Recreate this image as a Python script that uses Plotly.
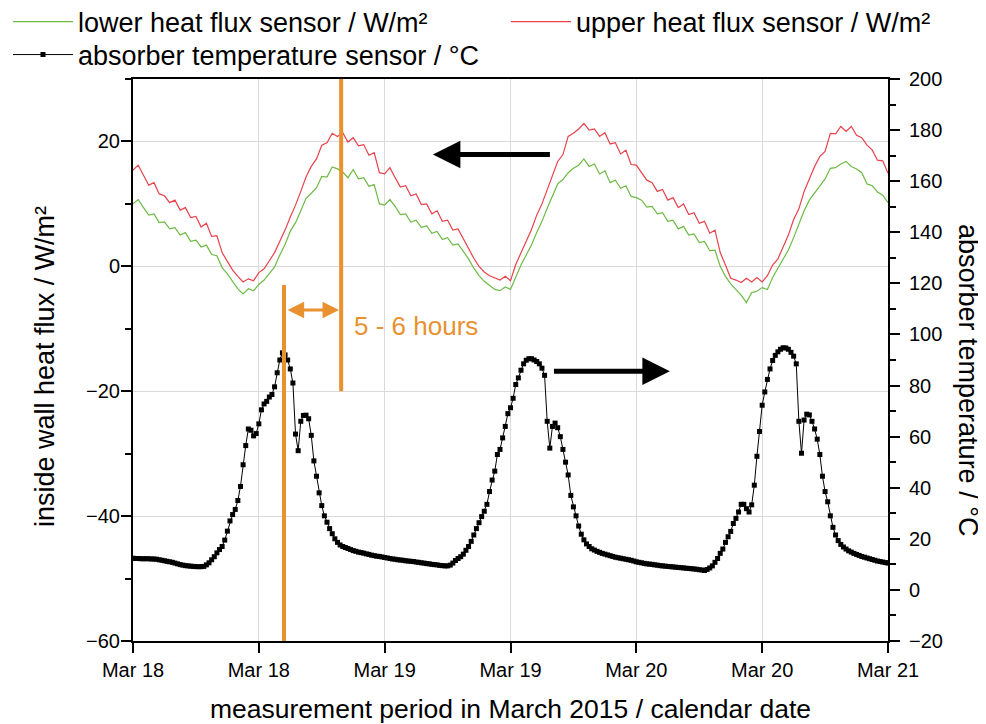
import numpy as np
import plotly.graph_objects as go

# ---------------- data ----------------
# heat flux sensors, 30-minute readings from Mar 18 00:00 (W/m²)
upper_flux = [
    15.4, 16.2, 14.6, 13.0, 13.4, 11.6, 11.3, 10.2, 10.6, 9.0, 9.4, 7.8,
    8.0, 6.3, 6.9, 4.8, 4.9, 2.2, 0.8, -0.6, -1.6, -2.5, -2.0, -2.3,
    -1.0, -0.4, 0.9, 2.2, 4.0, 5.8, 7.9, 9.8, 12.0, 14.3, 16.0, 17.2,
    19.4, 19.8, 21.3, 20.8, 21.4, 19.9, 20.6, 19.3, 19.5, 17.8, 18.2, 15.0,
    14.8, 15.8, 14.2, 12.7, 12.9, 11.3, 11.6, 9.9, 10.0, 8.4, 8.9, 7.2,
    7.4, 5.8, 6.0, 4.4, 2.8, 1.3, 0.0, -0.9, -1.5, -1.9, -2.2, -1.6,
    -2.3, 0.3, 2.3, 4.0, 5.9, 8.2, 10.0, 12.2, 14.3, 16.8, 17.9, 20.8,
    21.3, 22.0, 22.9, 21.8, 22.0, 20.8, 21.4, 19.6, 19.8, 18.0, 18.6, 16.3,
    16.2, 15.0, 13.8, 13.4, 12.0, 12.3, 10.6, 11.0, 9.4, 10.0, 8.3, 8.6,
    6.9, 7.2, 5.3, 5.8, 2.2, 0.2, -1.9, -2.2, -2.6, -1.9, -2.5, -1.8,
    -2.5, -1.5, 0.2, 1.2, 3.2, 5.0, 7.5, 9.2, 12.0, 13.9, 16.0, 17.6,
    18.4, 21.3, 21.2, 22.4, 21.6, 22.4, 21.0, 20.6, 19.4, 18.6, 17.0, 16.9,
    14.9,
]
lower_flux = [
    10.0, 10.7, 9.4, 8.2, 8.4, 7.0, 7.1, 6.0, 6.2, 5.0, 5.4, 4.0,
    4.2, 3.1, 3.4, 1.9, 1.7, -0.2, -1.2, -2.4, -3.6, -4.4, -3.6, -3.9,
    -2.9, -2.2, -1.1, -0.1, 1.8, 3.5, 5.6, 7.0, 8.9, 10.9, 11.7, 12.6,
    14.4, 14.3, 15.9, 15.6, 15.1, 14.2, 15.5, 14.0, 14.2, 12.8, 13.1, 10.0,
    9.8, 10.7, 9.6, 8.3, 8.4, 7.1, 7.4, 6.2, 6.5, 5.3, 5.6, 4.3,
    4.6, 3.4, 3.6, 2.4, 1.2, -0.3, -1.5, -2.4, -3.1, -3.7, -3.9, -3.3,
    -3.7, -1.6, 0.2, 1.8, 3.4, 5.4, 7.2, 9.3, 11.2, 13.2, 13.9, 15.0,
    15.7, 16.2, 17.2, 16.0, 16.4, 14.8, 15.3, 13.4, 13.8, 12.5, 12.9, 11.2,
    11.0, 10.6, 9.5, 9.6, 8.4, 8.6, 7.2, 7.4, 6.0, 6.4, 5.0, 5.2,
    3.8, 4.0, 2.5, 2.6, 0.0, -1.6, -2.8, -3.7, -4.6, -5.8, -4.2, -4.0,
    -3.4, -3.7, -1.8, -0.3, 1.2, 2.6, 4.6, 6.8, 8.9, 10.6, 11.8, 13.0,
    14.0, 15.7, 15.8, 16.4, 16.8, 16.0, 15.6, 15.0, 13.2, 12.9, 11.9, 11.4,
    10.2,
]
# absorber temperature, 15-minute readings (°C)
absorber_temp = [
    12.4, 12.3, 12.3, 12.2, 12.2, 12.2, 12.2, 12.1, 12.1, 12.0, 11.8, 11.6,
    11.4, 11.2, 11.0, 10.8, 10.5, 10.2, 9.9, 9.7, 9.5, 9.4, 9.3, 9.2,
    9.1, 9.1, 9.1, 9.2, 9.8, 10.6, 11.8, 13.0, 14.5, 15.8, 17.0, 19.5,
    23.0, 27.0, 29.5, 31.5, 35.0, 40.5, 49.0, 56.5, 63.0, 62.5, 60.3, 61.2,
    65.0, 70.5, 72.8, 73.8, 75.5, 76.5, 79.5, 85.0, 90.0, 92.8, 92.0, 90.0,
    86.5, 81.0, 61.0, 54.5, 66.0, 68.3, 68.4, 67.0, 60.5, 50.5, 44.5, 38.0,
    33.0, 29.0, 26.5, 24.0, 22.0, 20.0, 18.6, 17.6, 17.0, 16.6, 16.2, 15.8,
    15.4, 15.1, 14.8, 14.6, 14.4, 14.1, 13.9, 13.6, 13.4, 13.2, 13.1, 12.9,
    12.7, 12.5, 12.3, 12.1, 12.0, 11.8, 11.7, 11.6, 11.4, 11.3, 11.2, 11.1,
    10.9, 10.8, 10.6, 10.5, 10.3, 10.2, 10.0, 9.9, 9.8, 9.6, 9.5, 9.4,
    9.4, 9.7, 10.5, 11.5, 12.3, 13.0, 14.0, 15.5, 17.0, 19.0, 21.5, 24.0,
    26.3, 28.7, 30.8, 33.5, 38.5, 43.0, 46.5, 53.0, 55.0, 59.5, 64.0, 69.0,
    71.3, 75.0, 80.4, 83.0, 86.0, 88.5, 89.9, 90.5, 90.5, 90.0, 89.4, 88.5,
    86.8, 84.0, 66.0, 55.5, 64.0, 65.3, 63.5, 60.0, 55.0, 50.0, 45.0, 37.0,
    32.5, 29.0, 25.0, 21.8, 19.6, 18.0, 17.0, 16.1, 15.6, 15.1, 14.7, 14.3,
    14.0, 13.7, 13.4, 13.1, 12.8, 12.6, 12.4, 12.2, 12.0, 11.8, 11.6, 11.3,
    11.0, 10.8, 10.6, 10.4, 10.2, 10.1, 10.0, 9.8, 9.7, 9.5, 9.4, 9.3,
    9.2, 9.1, 9.0, 8.9, 8.8, 8.7, 8.6, 8.5, 8.4, 8.3, 8.2, 8.1,
    7.9, 7.8, 7.6, 8.0, 8.6, 9.4, 10.8, 12.3, 14.3, 16.0, 18.6, 20.8,
    22.9, 26.0, 28.0, 30.5, 33.5, 33.5, 31.8, 30.5, 33.3, 41.0, 52.3, 62.0,
    72.3, 77.5, 82.4, 86.5, 89.8, 91.8, 93.2, 94.2, 94.8, 94.7, 94.2, 93.0,
    91.5, 88.5, 66.0, 53.5, 66.5, 68.8, 68.5, 66.0, 63.0, 59.0, 53.0, 44.5,
    38.5, 34.5, 29.0, 24.5, 21.5, 19.3, 17.8, 16.8, 16.0, 15.3, 14.8, 14.3,
    13.9, 13.5, 13.1, 12.8, 12.5, 12.2, 11.9, 11.6, 11.3, 11.1, 10.9, 10.7,
    10.5,
]
flux_hours = np.arange(len(upper_flux)) * 0.5
temp_hours = np.arange(len(absorber_temp)) * 0.25

tick_hours = [0, 12, 24, 36, 48, 60, 72]
tick_labels = ["Mar 18", "Mar 18", "Mar 19", "Mar 19", "Mar 20", "Mar 20", "Mar 21"]

# annotation markers (hours, W/m²)
temp_peak_hour = 14.4
flux_peak_hour = 19.85
lag_label = "5 - 6 hours"

FONT = "Arial, Liberation Sans, Helvetica, sans-serif"
ORANGE = "#E8912E"
RED = "#E8424C"
GREEN = "#6DBA45"

# the page has an 8px body margin, so the figure is drawn 8px in from the corner
OFF = 8
W, H = 986 - OFF, 724 - OFF
# plot area in figure pixels
PL, PR, PT, PB = 133 - OFF, 888 - OFF, 79 - OFF, 641 - OFF


def px_x(px):
    return (px - PL) / (PR - PL)


def px_y(py):
    return (PB - py) / (PB - PT)


fig = go.Figure()
fig.add_trace(go.Scatter(
    x=flux_hours, y=lower_flux, mode="lines", name="lower heat flux sensor / W/m²",
    line=dict(color=GREEN, width=1.2), legend="legend"))
fig.add_trace(go.Scatter(
    x=flux_hours, y=upper_flux, mode="lines", name="upper heat flux sensor / W/m²",
    line=dict(color=RED, width=1.2), legend="legend2"))
fig.add_trace(go.Scatter(
    x=temp_hours, y=absorber_temp, mode="lines+markers", yaxis="y2",
    name="absorber temperature sensor / °C",
    line=dict(color="black", width=1),
    marker=dict(symbol="square", size=5, color="black"), legend="legend3"))

# orange lag markers
fig.add_shape(type="line", xref="x", yref="y", x0=temp_peak_hour, x1=temp_peak_hour,
              y0=-60, y1=-3, line=dict(color=ORANGE, width=4))
fig.add_shape(type="line", xref="x", yref="y", x0=flux_peak_hour, x1=flux_peak_hour,
              y0=-20, y1=30, line=dict(color=ORANGE, width=4))

annotations = [
    dict(x=flux_peak_hour - 0.2, y=-7.0, ax=temp_peak_hour + 0.2, ay=-7.0,
         xref="x", yref="y", axref="x", ayref="y", text="", showarrow=True,
         arrowhead=2, startarrowhead=2, arrowside="end+start", arrowwidth=3,
         arrowsize=1.1, startarrowsize=1.1, arrowcolor=ORANGE),
    dict(x=20.9, y=-9.6, xref="x", yref="y", text=lag_label, showarrow=False,
         xanchor="left", yanchor="middle", font=dict(size=26, color=ORANGE, family=FONT)),
    # black arrows
    dict(x=28.6, y=17.9, ax=39.9, ay=17.9, xref="x", yref="y", axref="x", ayref="y",
         text="", showarrow=True, arrowhead=2, arrowwidth=5, arrowsize=1.1, arrowcolor="black"),
    dict(x=51.2, y=-16.8, ax=40.0, ay=-16.8, xref="x", yref="y", axref="x", ayref="y",
         text="", showarrow=True, arrowhead=2, arrowwidth=5, arrowsize=1.1, arrowcolor="black"),
    # axis titles for the two y axes
    dict(x=px_x(45 - OFF), y=px_y(367 - OFF), xref="paper", yref="paper",
         text="inside wall heat flux / W/m²", showarrow=False, textangle=-90,
         xanchor="center", yanchor="middle", font=dict(size=27, family=FONT, color="black")),
    dict(x=px_x(968 - OFF), y=px_y(380 - OFF), xref="paper", yref="paper",
         text="absorber temperature / °C", showarrow=False, textangle=90,
         xanchor="center", yanchor="middle", font=dict(size=27, family=FONT, color="black")),
]

axis_common = dict(showline=True, linecolor="black", linewidth=2, ticks="outside",
                   ticklen=10, tickwidth=2, tickcolor="black", zeroline=False,
                   automargin=False)

legend_common = dict(xref="paper", yref="paper", xanchor="left", yanchor="middle",
                     itemwidth=60, font=dict(size=27), bgcolor="rgba(0,0,0,0)",
                     borderwidth=0)

fig.update_layout(
    width=W, height=H,
    margin=dict(l=PL, r=W - PR, t=PT, b=H - PB, autoexpand=False),
    paper_bgcolor="white", plot_bgcolor="white",
    font=dict(family=FONT, size=20, color="black"),
    showlegend=True,
    xaxis=dict(range=[0, 72], tickmode="array", tickvals=tick_hours, ticktext=tick_labels,
               showgrid=True, gridcolor="#DADADA", gridwidth=1, mirror=True,
               title=dict(text="measurement period in March 2015 / calendar date",
                          font=dict(size=26.5), standoff=21),
               **axis_common),
    yaxis=dict(range=[-60, 30], tick0=0, dtick=20, showgrid=True, gridcolor="#DADADA",
               gridwidth=1, ticklabelstandoff=-3,
               minor=dict(dtick=10, tick0=0, ticklen=6, tickwidth=2, tickcolor="black",
                          ticks="outside", showgrid=False),
               **axis_common),
    yaxis2=dict(range=[-20, 200], tick0=0, dtick=20, overlaying="y", side="right",
                showgrid=False, ticklabelstandoff=5,
                minor=dict(dtick=10, tick0=0, ticklen=6, tickwidth=2, tickcolor="black",
                           ticks="outside", showgrid=False),
                **axis_common),
    legend=dict(x=px_x(0), y=px_y(22 - OFF), **legend_common),
    legend2=dict(x=px_x(506 - OFF), y=px_y(22 - OFF), **legend_common),
    legend3=dict(x=px_x(0), y=px_y(55 - OFF), **legend_common),
    annotations=annotations,
)

fig.write_html("out.html")
